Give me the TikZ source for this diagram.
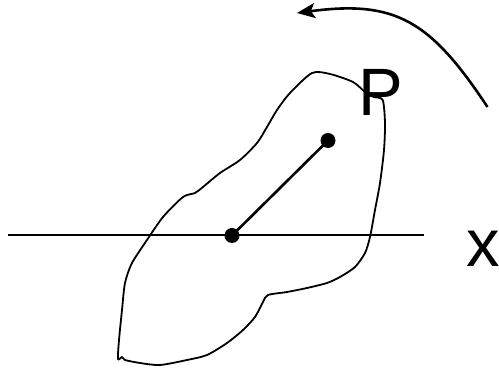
\documentclass[tikz,border=0pt]{standalone}
\usepackage{fontspec}
\setmainfont{Liberation Sans}
\usetikzlibrary{arrows.meta}
\begin{document}
\begin{tikzpicture}[x=1pt,y=-1pt,
  outline/.style={line width=1.8pt,line join=round},
  axisline/.style={line width=2pt},
  seg/.style={line width=2.6pt},
  dotpt/.style={circle,fill=black,inner sep=0pt,minimum size=15pt},
  lbl/.style={inner sep=0pt,anchor=base west,font=\fontsize{67}{67}\selectfont},
  rotarrow/.style={line width=2.6pt,-{Stealth[length=18pt,width=15pt,inset=4pt]}}]
\useasboundingbox (0,0) rectangle (499,371);
\draw[outline] plot[smooth cycle,tension=0.45] coordinates {
 (312,73) (330,74) (353,82) (365,92) (374,97) (382.7,100) (385,123) (384,150)
 (380,183) (375,210) (370,237) (365,253) (355,267) (340,277) (327,283)
 (307,288) (287,292) (268,295) (263,302) (255,317) (243,330) (227,343)
 (207,355) (187,360) (160,365) (140,363) (125,360) (122,357) (118,359)
 (119,340) (122,310) (125,283) (132,263) (147,240) (163,217) (183,197)
 (195,193) (203,187) (220,173) (240,160) (257,143) (267,127) (277,110)
 (290,93)};
\coordinate (axL) at (8,235.5);
\coordinate (axR) at (424,235.5);
\draw[axisline] (axL) -- (axR);
\node[dotpt] (o) at (232,235.5) {};
\node[dotpt] (p) at (328,140.5) {};
\draw[seg] (o.center) -- (p.center);
\node[lbl] (P) at (358,116) {P};
\node[lbl] (X) at (466,267) {x};
\coordinate (arS) at (487.5,107);
\coordinate (arE) at (297,13);
\draw[rotarrow] (arS) .. controls (430,20) and (395,0) .. (arE);
\end{tikzpicture}
\end{document}
